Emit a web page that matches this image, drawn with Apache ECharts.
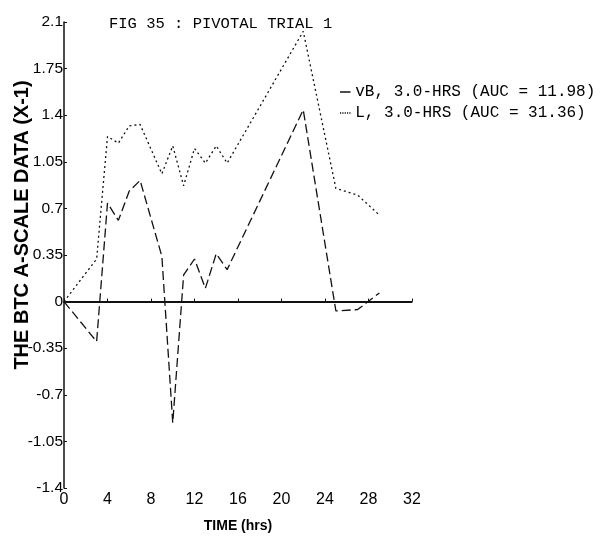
<!DOCTYPE html>
<html>
<head>
<meta charset="utf-8">
<title>FIG 35 : PIVOTAL TRIAL 1</title>
<script src="https://cdn.jsdelivr.net/npm/echarts@6/dist/echarts.min.js"></script>
<style>
  html, body { margin: 0; padding: 0; background: #fff; }
  #chart { width: 612px; height: 551px; }
</style>
</head>
<body>
<div id="chart"></div>
<script>
// Sampling times (hours)
const hours = [0, 3, 4, 5, 6, 7, 9, 10, 11, 12, 13, 14, 15, 22, 25, 27, 29];
// BTC A-scale data (x-1) per treatment
const vBValues = [0, -0.30, 0.74, 0.61, 0.83, 0.91, 0.34, -0.91, 0.20, 0.32, 0.10, 0.36, 0.24, 1.44, -0.07, -0.06, 0.065];
const lValues  = [0, 0.32, 1.24, 1.19, 1.32, 1.33, 0.96, 1.17, 0.87, 1.15, 1.04, 1.17, 1.04, 2.03, 0.85, 0.80, 0.65];
const seriesNames = ['vB, 3.0-HRS (AUC = 11.98)', 'L, 3.0-HRS (AUC = 31.36)'];
const yTicks = [-1.4, -1.05, -0.7, -0.35, 0, 0.35, 0.7, 1.05, 1.4, 1.75, 2.1];
const xTicks = [0, 4, 8, 12, 16, 20, 24, 28, 32];

const pairs = (xs, ys) => xs.map((x, i) => [x, ys[i]]);
const sans = "'Liberation Sans', Arial, sans-serif";
const mono = "'Liberation Mono', 'DejaVu Sans Mono', monospace";

// Legend keys: a solid dash for vB, a row of dots for L
const dashIcon = 'path://M0 0h14v2h-14z';
const dotIcon = 'path://M0 0h1.6v2h-1.6z M3.1 0h1.6v2h-1.6z M6.2 0h1.6v2h-1.6z M9.3 0h1.6v2h-1.6z M12.4 0h1.6v2h-1.6z';

const chart = echarts.init(document.getElementById('chart'), null, { renderer: 'canvas' });
chart.setOption({
  backgroundColor: '#ffffff',
  animation: false,
  title: {
    text: 'FIG 35 : PIVOTAL TRIAL 1',
    left: 104, top: 11,
    textStyle: { fontFamily: mono, fontSize: 15.5, fontWeight: 'normal', color: '#000' }
  },
  legend: {
    orient: 'vertical',
    left: 335, top: 79,
    itemWidth: 14, itemHeight: 1.5, itemGap: 5,
    textStyle: { fontFamily: mono, fontSize: 16, color: '#000', padding: [0, 0, 0, -2] },
    lineStyle: { width: 0 },
    data: [
      { name: seriesNames[0], icon: dashIcon, itemStyle: { color: '#111', borderWidth: 0 } },
      { name: seriesNames[1], icon: dotIcon, itemStyle: { color: '#111', borderWidth: 0 } }
    ]
  },
  grid: { left: 64, right: 200, top: 22, bottom: 63, containLabel: false },
  xAxis: {
    type: 'value', min: xTicks[0], max: xTicks[xTicks.length - 1], interval: 4,
    axisLine: { lineStyle: { color: '#111', width: 1.5 } },
    axisTick: { inside: true, length: 3, lineStyle: { color: '#111' } },
    splitLine: { show: false },
    axisLabel: { margin: 4, fontFamily: sans, fontSize: 16, color: '#000' }
  },
  yAxis: {
    type: 'value', min: yTicks[0], max: yTicks[yTicks.length - 1], interval: 0.35,
    axisLine: { onZero: false, lineStyle: { color: '#111', width: 1.5 } },
    axisTick: { inside: true, length: 3, lineStyle: { color: '#111' } },
    splitLine: { show: false },
    axisLabel: {
      margin: 1, fontFamily: sans, fontSize: 15.5, color: '#000',
      formatter: v => String(+v.toFixed(2))
    }
  },
  graphic: [
    {
      type: 'text', x: 22, y: 225, rotation: Math.PI / 2,
      style: {
        text: 'THE BTC A-SCALE DATA (X-1)', fontFamily: sans,
        fontSize: 20, fontWeight: 'bold', fill: '#000', align: 'center', verticalAlign: 'middle'
      }
    },
    {
      type: 'text', x: 238, y: 526,
      style: {
        text: 'TIME (hrs)', fontFamily: sans, fontSize: 14, fontWeight: 'bold',
        fill: '#000', align: 'center', verticalAlign: 'middle'
      }
    }
  ],
  series: [
    {
      name: seriesNames[0], type: 'line', data: pairs(hours, vBValues),
      symbol: 'none', color: '#111',
      lineStyle: { color: '#111', width: 1.3, type: [9, 4] },
      markLine: {
        silent: true, symbol: 'none', label: { show: false },
        lineStyle: { color: '#111', width: 2, type: 'solid' },
        data: [{ yAxis: 0 }]
      },
      z: 3
    },
    {
      name: seriesNames[1], type: 'line', data: pairs(hours, lValues),
      symbol: 'none', color: '#111',
      lineStyle: { color: '#111', width: 1.3, type: [2, 3] },
      z: 3
    }
  ]
});
</script>
</body>
</html>
